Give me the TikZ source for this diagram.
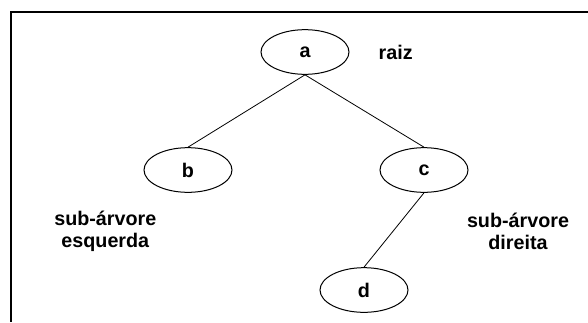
\documentclass[tikz,border=0pt]{standalone}
\usepackage{tikz,fontspec}
\usetikzlibrary{positioning, shapes.geometric}
\setmainfont{Liberation Sans}

\begin{document}
\begin{tikzpicture}[
        on grid,
        no/.style = {ellipse, draw, line width=0.75pt, minimum width=66pt, minimum height=33.5pt, inner sep=0pt},
        rotulo/.style = {align=center},
        aresta/.style = {black, line width=0.6pt},
        moldura/.style = {black, line width=1.6pt},
        font=\fontsize{14.8}{16.5}\selectfont\bfseries
        ]
        \useasboundingbox (0,0) rectangle (441pt,-241.5pt);
        \draw[moldura] (441pt,-9pt) -- (8.25pt,-9pt) -- (8.25pt,-241.5pt);

        \node[no] (a) at (228.75pt,-39pt) {a};
        \node[rotulo] (raiz) [right=68pt of a] {raiz};
        \node[no] (b) [below left=88.5pt and 87.75pt of a] {b};
        \node[no] (c) [below right=88.5pt and 89.25pt of a] {c};
        \node[no] (d) [below left=90pt and 45pt of c] {d};
        \node[rotulo] (esq) [below left=46pt and 62pt of b] {sub-árvore\\esquerda};
        \node[rotulo] (dir) [below right=46pt and 70.5pt of c] {sub-árvore\\direita};

        \draw[aresta] (a.south) -- (b.north)
        (a.south) -- (c.north)
        (c.south) -- (d.north);

      \end{tikzpicture}
\end{document}
